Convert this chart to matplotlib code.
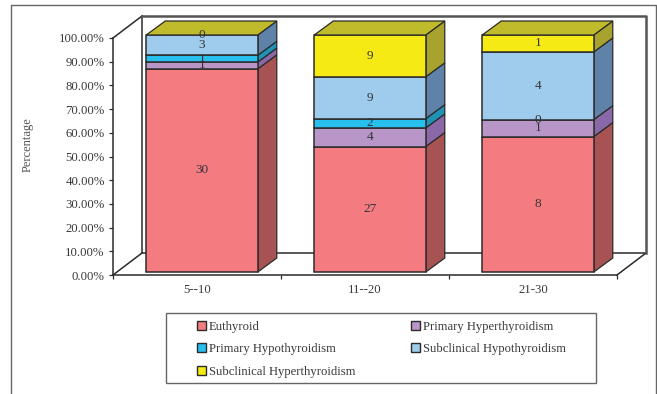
#!/usr/bin/env python3

import matplotlib
matplotlib.use('Agg')
import matplotlib.pyplot as plt
from matplotlib.lines import Line2D
from matplotlib.patches import Polygon, Rectangle

W, H = 657, 394

categories = ['5--10', '11--20', '21-30']
series_names = ['Euthyroid', 'Primary Hyperthyroidism', 'Primary Hypothyroidism',
                'Subclinical Hypothyroidism', 'Subclinical Hyperthyroidism']
euthyroid = [30, 27, 8]
primary_hyper = [1, 4, 1]
primary_hypo = [1, 2, 0]
subclinical_hypo = [3, 9, 4]
subclinical_hyper = [0, 9, 1]
y_ticks = [0, 10, 20, 30, 40, 50, 60, 70, 80, 90, 100]

front_cols = ['#f47c80', '#b996c8', '#27bfee', '#9fcbec', '#f5ea14']
side_cols = ['#a85353', '#8a68a8', '#1f93b5', '#5f82a8', '#a8a32e']
top_col = '#bfbb2a'
edge = '#2b2b2b'
text_col = '#3a3a3a'

plt.rcParams['font.family'] = ['Liberation Serif', 'DejaVu Serif']
plt.rcParams['font.size'] = 9.2


def fx(px):
    return px / W


def fy(py):
    return 1 - py / H


fig = plt.figure(figsize=(W / 100, H / 100), dpi=100)
fig.patch.set_facecolor('white')

# axes box is the front plane of the fake 3D chart
ax = fig.add_axes([fx(113), fy(275), fx(617) - fx(113), fy(38) - fy(275)])
ax.set_xlim(0, 3)
ax.set_ylim(0, 100)
ax.patch.set_visible(False)

ppx = 3 / (617 - 113)
ppy = 100 / (275 - 38)
wall_dx, wall_dy = 29 * ppx, 22 * ppy
front_dx, front_dy = 5 * ppx, 3 * ppy
bar_dx, bar_dy = 19 * ppx, 14 * ppy
bar_w = 0.664

# walls
line_kw = dict(color=edge, lw=1.1, clip_on=False, zorder=1)
ax.plot([0, wall_dx], [100, 100 + wall_dy], **line_kw)
ax.plot([0, wall_dx], [0, wall_dy], **line_kw)
ax.plot([3, 3 + wall_dx], [0, wall_dy], **line_kw)
ax.plot([wall_dx, wall_dx], [wall_dy, 100 + wall_dy], **line_kw)
ax.plot([wall_dx, 3 + wall_dx], [wall_dy, wall_dy], **line_kw)
ax.plot([wall_dx, 3 + wall_dx, 3 + wall_dx], [100 + wall_dy, 100 + wall_dy, wall_dy],
        color='#555555', lw=1.8, clip_on=False, zorder=1)

series = [euthyroid, primary_hyper, primary_hypo, subclinical_hypo, subclinical_hyper]
totals = [sum(s[i] for s in series) for i in range(len(categories))]

for i in range(len(categories)):
    left = i + 0.5 - bar_w / 2 + front_dx
    right = left + bar_w
    bottom = front_dy
    for j, s in enumerate(series):
        h = s[i] / totals[i] * 100
        if h == 0:
            continue
        ax.add_patch(Polygon([(right, bottom), (right + bar_dx, bottom + bar_dy),
                              (right + bar_dx, bottom + h + bar_dy), (right, bottom + h)],
                             fc=side_cols[j], ec=edge, lw=0.9, clip_on=False, zorder=2))
        ax.bar(left + bar_w / 2, h, bar_w, bottom=bottom, color=front_cols[j],
               edgecolor=edge, lw=1.1, zorder=3, clip_on=False)
        bottom += h
    ax.add_patch(Polygon([(left, bottom), (left + bar_dx, bottom + bar_dy),
                          (right + bar_dx, bottom + bar_dy), (right, bottom)],
                         fc=top_col, ec=edge, lw=0.9, clip_on=False, zorder=3))
    # value labels
    base = front_dy
    for j, s in enumerate(series):
        h = s[i] / totals[i] * 100
        ax.text(left + bar_w / 2, base + h / 2, str(s[i]), ha='center', va='center',
                color='#33333a', fontsize=9.5, zorder=5, clip_on=False)
        base += h

# axis lines and ticks
for side in ['top', 'right']:
    ax.spines[side].set_visible(False)
for side in ['left', 'bottom']:
    ax.spines[side].set_color(edge)
    ax.spines[side].set_linewidth(1.1)
ax.set_yticks(y_ticks)
ax.set_yticklabels(['%.2f%%' % v for v in y_ticks], color=text_col, fontsize=9.2)
ax.set_xticks([0, 1, 2, 3])
ax.set_xticklabels([])
ax.tick_params(axis='y', length=3, width=0.9, color=edge, pad=3)
ax.tick_params(axis='x', length=3, width=0.9, color=edge)
for i, c in enumerate(categories):
    ax.text(i + 0.5, -6.2, c, ha='center', va='center', color=text_col, fontsize=9.2)

fig.text(fx(28), fy(145), 'Percentage', rotation=90, ha='center', va='center',
         color='#555555', fontsize=9)

# image border, only top, left and right are visible in the scan
fig.add_artist(Line2D([fx(11), fx(11), fx(656), fx(656)], [0, fy(5), fy(5), 0],
                      color='#666666', lw=1.0))

# legend box
fig.add_artist(Rectangle((fx(166), fy(383)), fx(596) - fx(166), fy(313) - fy(383),
                         fc='white', ec='#666666', lw=1.0, transform=fig.transFigure))
proxies = [Rectangle((0, 0), 1, 1, fc=front_cols[j], ec=edge, lw=1.0) for j in [0, 2, 4, 1, 3]]
names = [series_names[j] for j in [0, 2, 4, 1, 3]]
leg = fig.legend(proxies, names, loc='upper left', bbox_to_anchor=(fx(185.5), fy(309.5)), ncol=2,
                 frameon=False, fontsize=9.1, handlelength=0.7, handleheight=0.7,
                 handletextpad=0.25, labelspacing=0.82, columnspacing=4.4,
                 labelcolor=text_col)
leg.set_zorder(5)

fig.savefig('out.png', dpi=100)
